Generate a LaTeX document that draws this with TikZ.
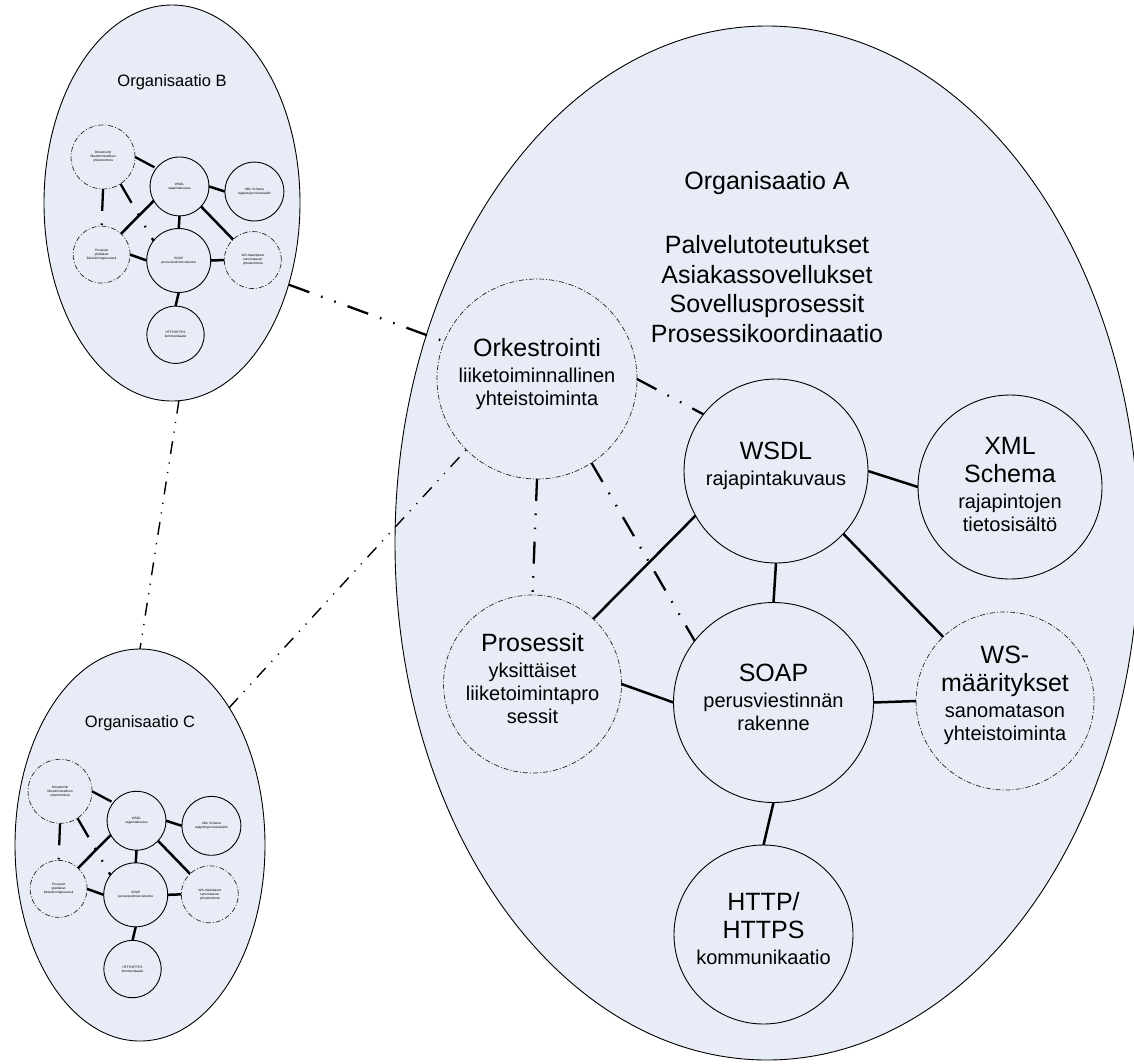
\documentclass[tikz,border=0pt]{standalone}
\usepackage{fontspec}
\setmainfont{Liberation Sans}
\usetikzlibrary{shapes.geometric}

\definecolor{orgfill}{RGB}{232,236,246}

\newcommand\nettitle{\fontsize{25}{28}\selectfont}
\newcommand\netsub{\fontsize{20}{23}\selectfont}
\newcommand\netmini{\fontsize{3.2}{3.9}\selectfont}

\tikzset{
  org/.style={ellipse, draw=black, line width=0.9pt, fill=orgfill,
    inner sep=0pt, outer sep=0pt},
  plainc/.style={circle, draw=black, line width=0.9pt, inner sep=0pt, outer sep=0pt},
  dotc/.style={circle, draw=black!85, line width=0.7pt,
    dash pattern=on 5pt off 2pt on 1pt off 2pt, inner sep=0pt, outer sep=0pt},
  link/.style={line width=2.5pt},
  ddlink/.style={line width=2.3pt,
    dash pattern=on 22pt off 12.5pt on 1.6pt off 12.5pt on 1.6pt off 12.5pt},
  ddthin/.style={line width=1.4pt,
    dash pattern=on 13pt off 8.5pt on 1.2pt off 8.5pt on 1.2pt off 8.5pt},
  lbl/.style={align=center, inner sep=0pt, font=\netsub},
  orglbl/.style={inner sep=0pt, font=\fontsize{16.5}{19}\selectfont},
  bigtxt/.style={align=center, inner sep=0pt, font=\fontsize{25}{29.4}\selectfont},
  minilbl/.style={align=center, inner sep=0pt, font=\netmini},
}

% the service stack: circles and their connectors; #1 = name prefix, #2 = size factor
\newcommand\network[2]{%
  \node[dotc,   minimum size=#2*200pt] (#1ork)  at (537,379)     {};
  \node[plainc, minimum size=#2*184pt] (#1wsdl) at (776,471)     {};
  \node[plainc, minimum size=#2*184pt] (#1xml)  at (1010,487)    {};
  \node[dotc,   minimum size=#2*178pt] (#1pros) at (532.5,684)   {};
  \node[plainc, minimum size=#2*200pt] (#1soap) at (773.5,702.5) {};
  \node[dotc,   minimum size=#2*178pt] (#1ws)   at (1005,701)    {};
  \node[plainc, minimum size=#2*179pt] (#1http) at (763.5,934.5) {};
  \draw[ddlink] (#1ork.east)  -- (#1wsdl.142);
  \draw[ddlink] (#1ork.south) -- (#1pros.north);
  \draw[ddlink] (#1ork.-57)   -- (#1soap.142);
  \draw[link] (#1wsdl.east)  -- (#1xml.west);
  \draw[link] (#1wsdl.209)   -- (#1pros.47);
  \draw[link] (#1wsdl.south) -- (#1soap.north);
  \draw[link] (#1wsdl.-43)   -- (#1ws.134);
  \draw[link] (#1pros.east)  -- (#1soap.west);
  \draw[link] (#1soap.east)  -- (#1ws.west);
  \draw[link] (#1soap.south) -- (#1http.north);
}

% tiny captions of the miniature stacks
\newcommand\minilabels[1]{%
  \node[minilbl] (#1orkT)  at (#1ork)  {Orkestrointi\\liiketoiminnallinen\\yhteistoiminta};
  \node[minilbl] (#1wsdlT) at (#1wsdl) {WSDL\\rajapintakuvaus};
  \node[minilbl] (#1xmlT)  at (#1xml)  {XML Schema\\rajapintojen tietosisältö};
  \node[minilbl] (#1prosT) at (#1pros) {Prosessit\\yksittäiset\\liiketoimintaprosessit};
  \node[minilbl] (#1soapT) at (#1soap) {SOAP\\perusviestinnän rakenne};
  \node[minilbl] (#1wsT)   at (#1ws)   {WS-määritykset\\sanomatason\\yhteistoiminta};
  \node[minilbl] (#1httpT) at (#1http) {HTTP/HTTPS\\kommunikaatio};
}

\begin{document}
\begin{tikzpicture}[x=1pt, y=-1pt]
  \useasboundingbox (0,0) rectangle (1134,1063);

  % organisations
  \node[org, minimum width=744pt, minimum height=1034pt] (orgA) at (767,543) {};
  \node[org, minimum width=256pt, minimum height=396pt]  (orgB) at (172,203) {};
  \node[org, minimum width=250pt, minimum height=392pt]  (orgC) at (140,845) {};

  \node[orglbl] (labB) at (172,82)  {Organisaatio B};
  \node[orglbl] (labC) at (140,723) {Organisaatio C};

  \node[bigtxt] (labA)  at (767,183) {Organisaatio A};
  \node[bigtxt] (listA) at (767,289) {Palvelutoteutukset\\Asiakassovellukset\\Sovellusprosessit\\Prosessikoordinaatio};

  % main stack of organisation A
  \network{}{1}

  \node[lbl, yshift=5pt] (orkT)  at (ork)  {{\nettitle Orkestrointi}\\[3pt]liiketoiminnallinen\\yhteistoiminta};
  \node[lbl, yshift=5pt] (wsdlT) at (wsdl) {{\nettitle WSDL}\\[3pt]rajapintakuvaus};
  \node[lbl, yshift=3pt] (xmlT)  at (xml)  {{\nettitle XML}\\[5pt]{\nettitle Schema}\\[3pt]rajapintojen\\tietosisältö};
  \node[lbl, yshift=5pt] (prosT) at (pros) {{\nettitle Prosessit}\\[3pt]yksittäiset\\liiketoimintapro\\sessit};
  \node[lbl, yshift=5pt] (soapT) at (soap) {{\nettitle SOAP}\\[3pt]perusviestinnän\\rakenne};
  \node[lbl, yshift=6pt] (wsT)   at (ws)   {{\nettitle WS-}\\[5pt]{\nettitle määritykset}\\[3pt]sanomatason\\yhteistoiminta};
  \node[lbl, yshift=6pt] (httpT) at (http) {{\nettitle HTTP/}\\[5pt]{\nettitle HTTPS}\\[3pt]kommunikaatio};

  % miniature stacks of organisations B and C
  \begin{scope}[shift={(-68.8,35.7)}, scale=0.32]
    \network{b}{0.32}
    \minilabels{b}
  \end{scope}
  \begin{scope}[shift={(-111.8,670)}, scale=0.32]
    \network{c}{0.32}
    \minilabels{c}
  \end{scope}

  % links between the organisations
  \draw[ddlink] (orgB.-35) -- (ork.158);
  \draw[ddthin] (orgC.57)  -- (ork.225);
  \draw[ddthin] (orgB.-88) -- (orgC.north);
\end{tikzpicture}
\end{document}
